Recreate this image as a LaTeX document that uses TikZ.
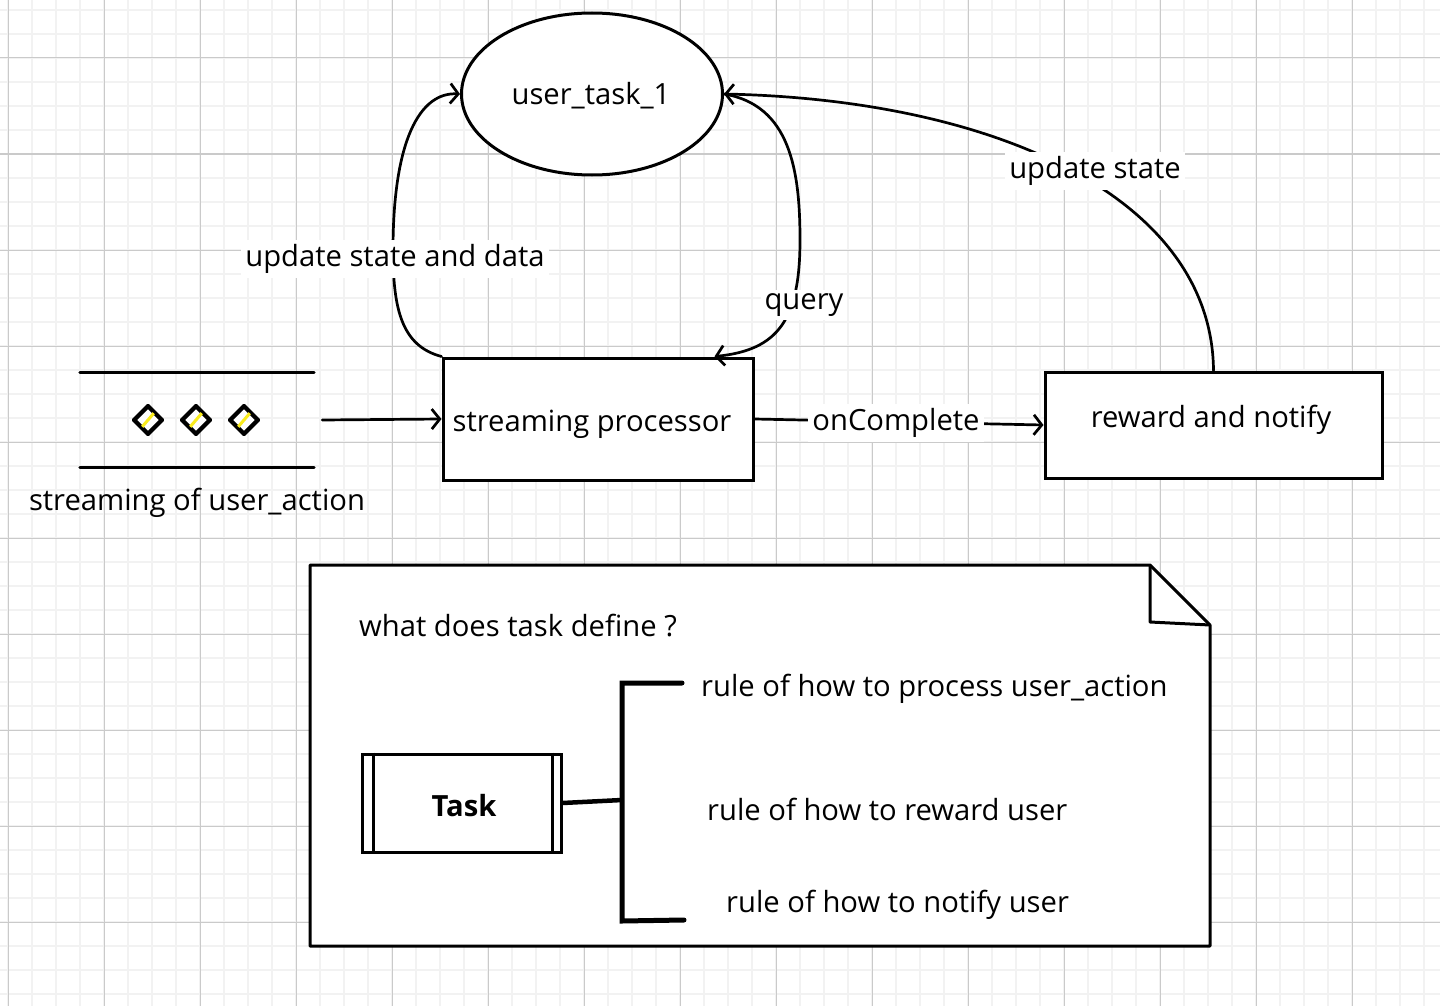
\documentclass[tikz,border=0pt]{standalone}
\usepackage{fontspec}
\setmainfont{Open Sans}
\usetikzlibrary{shapes.geometric,arrows.meta}
\definecolor{minorgrid}{RGB}{242,242,242}
\definecolor{majorgrid}{RGB}{202,202,202}
\definecolor{hachure}{RGB}{250,236,30}
\begin{document}
\begin{tikzpicture}[x=1pt,y=-1pt,
  every node/.style={font=\fontsize{29.2}{34}\selectfont},
  box/.style={draw, line width=3pt, fill=white, inner sep=0pt},
  lbl/.style={fill=white, inner sep=4pt},
  txt/.style={anchor=west, inner sep=0pt},
  conn/.style={line width=2.7pt, line cap=round},
  arr/.style={conn, -{Straight Barb[length=8pt,width=20pt]}},
  dia/.style={diamond, draw, fill=white, line width=2.8pt, minimum size=27pt, inner sep=0pt},
]
\useasboundingbox (0,0) rectangle (1440,1006);
\fill[white] (0,0) rectangle (1440,1006);
% grid
\foreach \x in {8,32,...,1440} \draw[line width=2pt, minorgrid] (\x,0) -- (\x,1006);
\foreach \y in {10,34,...,1006} \draw[line width=2pt, minorgrid] (0,\y) -- (1440,\y);
\foreach \x in {8,104,...,1440} \draw[line width=1pt, majorgrid] (\x,0) -- (\x,1006);
\foreach \y in {58,154,...,1006} \draw[line width=1pt, majorgrid] (0,\y) -- (1440,\y);

% main nodes
\node[ellipse, draw, line width=3pt, fill=white, minimum width=261pt, minimum height=162pt, inner sep=0pt] (task1) at (592,94) {};
\node (task1txt) at (591,96) {user\_task\_1};
\node[box, minimum width=310pt, minimum height=122pt] (proc) at (598,419) {};
\node (proctxt) at (592,424) {streaming processor};
\node[box, minimum width=337pt, minimum height=106pt] (reward) at (1213.5,425) {};
\node (rewardtxt) at (1211,420) {reward and notify};

% stream of user_action
\node[minimum width=234pt, minimum height=95pt, inner sep=0pt] (stream) at (197,420) {};
\draw[line width=3pt, line cap=round] (stream.north west) -- (stream.north east);
\draw[line width=3pt, line cap=round] (stream.south west) -- (stream.south east);
\foreach \n/\x in {d1/148,d2/196,d3/244}{
  \node[dia] (\n) at (\x,420) {};
  \draw[hachure, line width=3pt] ([shift={(-6,7)}]\n.center) -- ([shift={(6,-7)}]\n.center);
  \draw[line width=2.8pt, line join=round] (\n.north) -- (\n.east) -- (\n.south) -- (\n.west) -- cycle;
}
\node (streamcap) at (197,503) {streaming of user\_action};

% connectors
\draw[arr] ([xshift=8pt]stream.east) -- (proc.west);
\draw[arr] (proc.east) -- (reward.west);
\node[lbl] (oncomplete) at (896,423) {onComplete};

\draw[arr] (proc.north west) .. controls (402,346) and (393,310) .. (393,250)
  .. controls (393,140) and (420,92) .. (task1.west);
\node[lbl] (usd) at (395,259) {update state and data};

\draw[arr] (task1.east) .. controls (790,105) and (800,170) .. (800,240)
  .. controls (800,320) and (778,350) .. ([xshift=-40pt]proc.north east);
\node[lbl] (query) at (804,305) {query};

\draw[arr] (reward.north) .. controls (1212,200) and (1000,100) .. (task1.east);
\node[lbl] (us) at (1095,171) {update state};

% note
\draw[line width=3pt, fill=white, line join=round] (310,565) -- (1150,565) -- (1210,625) -- (1210,946) -- (310,946) -- cycle;
\draw[line width=3pt, line join=round] (1150,565) -- (1150,622) -- (1210,625);
\node[txt] (question) at (359,626) {what does task define ?};

\node[box, minimum width=199pt, minimum height=98pt] (taskbox) at (461.5,803) {};
\node[font=\fontsize{29.2}{34}\selectfont\bfseries] (tasktxt) at (464,806) {Task};
\draw[line width=3pt] ([xshift=13pt]taskbox.north west) -- ([xshift=13pt]taskbox.south west);
\draw[line width=3pt] ([xshift=-10pt]taskbox.north east) -- ([xshift=-10pt]taskbox.south east);

\coordinate (brtop) at (622,683);
\coordinate (brmid) at (622,800);
\coordinate (brbot) at (622,921);
\draw[line width=5pt, line cap=round] (682,683) -- (brtop) -- (brbot) -- (684,920);
\draw[line width=4.5pt] (taskbox.east) -- (brmid);

\node[txt] (rule1) at (701,689) {rule of how to process user\_action};
\node[txt] (rule2) at (707,809) {rule of how to reward user};
\node[txt] (rule3) at (726,905) {rule of how to notify user};
\end{tikzpicture}
\end{document}
